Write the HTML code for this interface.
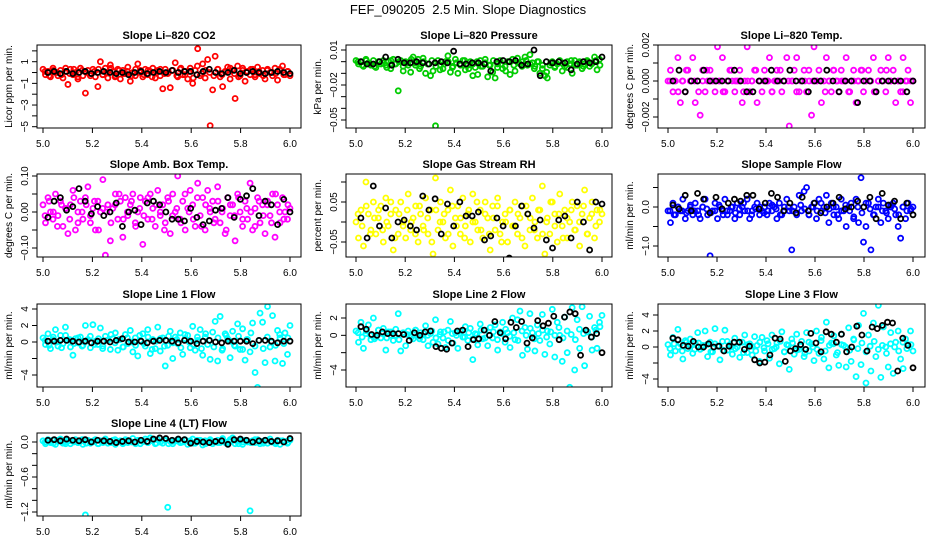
<!DOCTYPE html>
<html><head><meta charset="utf-8"><title>FEF_090205 2.5 Min. Slope Diagnostics</title>
<style>
html,body{margin:0;padding:0;background:#fff;}
svg{display:block;font-family:"Liberation Sans",Arial,sans-serif;}
</style></head>
<body>
<svg id="chart" width="936" height="540" viewBox="0 0 936 540" xmlns="http://www.w3.org/2000/svg">
<rect x="0" y="0" width="936" height="540" fill="#fff"/>
<text x="468" y="14" text-anchor="middle" font-size="13" fill="#000" style="white-space:pre">FEF_090205  2.5 Min. Slope Diagnostics</text>
</svg>
<script>
// ---- data ----
const xTicks = [5.0, 5.2, 5.4, 5.6, 5.8, 6.0];
const xTickLabels = ["5.0", "5.2", "5.4", "5.6", "5.8", "6.0"];

const co2Values = [0.3,-0.2,0.1,-0.4,0.4,0.0,-0.3,0.2,-0.5,0.1,-1.1,0.3,-0.2,0.0,-0.6,0.4,-0.3,-1.9,0.2,-0.1,0.3,-0.4,-1.3,1.0,-0.2,0.4,-0.5,0.7,0.1,-0.3,0.3,-0.6,0.2,-0.1,0.5,-0.8,0.0,-0.3,0.8,0.2,-0.4,0.3,-0.2,0.1,0.4,-0.5,0.2,-0.3,-1.5,0.3,-0.1,-1.4,0.2,0.9,-0.4,0.3,-0.2,0.1,-0.6,0.4,-1.0,0.2,2.2,-0.3,0.8,-0.5,1.2,-4.9,-1.6,1.5,0.3,-0.4,-1.3,0.1,0.5,-0.6,0.2,-2.4,0.6,-0.3,0.4,-0.8,0.1,-0.2,0.3,-0.4,0.5,-0.1,0.2,-0.6,0.3,0.0,-0.3,0.4,-0.7,0.2,0.6,-0.2,0.1,-0.3];
const co2Extra = [0.1,-0.3,0.2,0.0,-0.2,0.4,-0.1,0.3,-0.4,0.2,0.0,-0.3,0.1,0.3,-0.2,0.0,0.4,-0.4,0.2,-0.1,0.1,-0.3,0.3,0.0,-0.2,0.2,-0.4,0.1,0.3,-0.1,0.0,0.2,-0.3,0.4,-0.2,0.1,-0.5,0.6,-0.1,0.2,0.0,-0.3,0.3,-0.2,0.1,0.4,-0.1,-0.4,0.2,0.0,0.3,-0.2,0.1,-0.3,0.2,0.0,-0.1,0.3,-0.2,0.1];
const co2Mean = [0.0,0.1,-0.1,0.1,-0.1,0.0,0.1,-0.1,0.0,0.1,0.0,-0.1,0.0,-0.2,0.0,0.1,-0.1,0.0,0.1,0.0,0.2,0.0,0.1,0.1,-0.2,0.1,0.3,0.0,-0.1,0.0,0.2,-0.1,0.0,0.1,0.0,-0.1,0.0,0.1,0.0,-0.1];

const pressValues = [0.001,-0.002,0.000,-0.004,0.002,-0.001,-0.003,0.001,-0.005,0.000,-0.002,0.001,-0.003,0.000,-0.006,0.002,-0.002,-0.025,0.001,-0.008,0.000,-0.003,-0.009,0.004,-0.001,0.002,-0.004,0.003,-0.010,-0.002,-0.012,-0.008,-0.055,0.001,-0.003,-0.006,0.000,0.005,-0.009,-0.004,0.002,-0.010,-0.002,0.001,-0.007,-0.003,0.000,-0.012,-0.005,-0.011,0.001,-0.004,0.002,-0.013,-0.003,-0.009,-0.014,-0.002,0.001,-0.006,-0.004,0.000,-0.011,0.002,-0.008,0.003,-0.002,0.000,0.004,-0.003,0.006,-0.001,-0.004,0.000,-0.010,-0.006,-0.012,-0.014,-0.003,0.000,-0.005,-0.002,0.001,-0.008,-0.004,0.000,-0.002,-0.010,0.001,-0.003,0.000,-0.006,-0.002,0.001,-0.004,-0.001,0.004,-0.007,0.002,-0.060];
const pressExtra = [0.000,-0.003,0.001,-0.002,-0.004,0.000,-0.001,-0.005,0.001,-0.002,0.000,-0.004,-0.001,0.002,-0.003,-0.006,0.000,-0.002,0.001,-0.004,-0.007,-0.002,0.000,-0.005,-0.001,-0.003,0.001,-0.006,-0.002,0.000,-0.004,-0.001,-0.003,0.001,-0.005,-0.002,-0.008,0.000,-0.003,-0.001,-0.004,0.001,-0.002,-0.006,0.000,-0.003,-0.009,-0.001,-0.004,0.000,-0.002,-0.005,0.001,-0.003,-0.001,-0.004,0.000,-0.002,0.001,-0.003];
const pressMean = [0.000,-0.002,-0.002,0.000,0.004,-0.003,0.002,-0.001,-0.001,0.000,-0.001,-0.002,-0.001,0.000,-0.001,0.009,-0.002,-0.002,-0.001,-0.001,-0.002,-0.008,0.000,0.001,0.000,0.001,-0.003,-0.002,0.010,-0.012,0.000,-0.001,0.000,-0.001,-0.007,-0.002,0.000,-0.001,0.000,0.004];

const tempValues = [0,0.0006,-0.0006,0,0.0013,-0.0012,0,-0.0006,0.0006,0,0.0013,-0.0012,0,-0.0019,0.0006,-0.0006,0,0.0006,0,-0.0006,0.0019,0,0.0013,-0.0006,0,0.0006,0,-0.0006,0,0.0006,-0.0012,0,0.0019,-0.0006,0,0.0006,-0.0012,0,-0.0006,0.0006,0,0.0013,-0.0006,0,0.0006,0,-0.0006,0,0.0013,-0.0025,0,0.0006,0.0013,-0.0006,0,0.0006,-0.0006,0,-0.0019,0.0019,0,0.0006,-0.0012,0,0.0013,0,-0.0006,0.0006,0,-0.0006,0.0006,0,0.0013,-0.0006,0,0.0006,-0.0012,0,0.0006,-0.0006,0,0.0006,0,0.0013,-0.0006,0,0.0006,0,-0.0006,0.0013,0,0.0006,-0.0012,0,-0.0006,0.0013,0,0.0006,-0.0012,0];
const tempExtra = [0,0,-0.0006,0,0.0006,0,0,-0.0006,0,0.0006,0,0,0,-0.0006,0,0.0006,0,0,-0.0006,0,0,0.0006,0,0,0,-0.0006,0,0.0006,0,0,0,-0.0006,0,0,0.0006,0,0,0,-0.0006,0,0.0006,0,0,0,-0.0006,0,0,0.0006,0,0,-0.0006,0,0,0.0006,0,0,0,-0.0006,0,0];
const tempMean = [0,0.0006,-0.0006,0,0,0.0006,0,0,0,0,0.0006,0,-0.0006,-0.0006,0,0,0.0006,0,0,0.0006,0,0,-0.0006,0,0,0.0006,0,-0.0006,0,0,-0.0012,0,0,-0.0006,0,0,0,0,-0.0006,0];

const ambValues = [0.02,-0.03,0.04,0.00,-0.02,0.05,-0.01,0.03,-0.04,0.01,-0.06,0.02,0.06,-0.05,0.00,0.03,-0.02,0.04,0.07,-0.03,0.01,-0.05,0.03,0.00,0.09,-0.12,0.02,-0.08,0.01,0.05,-0.02,0.03,-0.07,0.04,-0.01,0.02,0.05,-0.03,0.00,0.04,-0.09,0.03,-0.02,0.05,0.01,-0.04,0.06,-0.01,0.02,-0.03,0.04,-0.06,0.05,0.00,0.10,-0.02,0.03,-0.05,0.01,0.06,0.02,-0.04,0.08,-0.01,0.04,-0.05,0.06,0.00,0.03,-0.02,0.07,-0.03,0.01,-0.06,0.04,-0.01,0.02,-0.08,0.05,0.00,-0.04,0.03,-0.02,0.08,-0.05,0.01,0.04,-0.03,0.02,-0.06,0.03,-0.01,0.05,-0.07,0.02,-0.03,0.04,0.00,-0.02,0.01];
const ambExtra = [-0.01,0.03,0.00,-0.04,0.02,0.01,-0.02,0.04,-0.03,0.00,0.02,-0.01,0.03,-0.05,0.01,0.00,-0.03,0.02,0.05,-0.02,0.00,0.03,-0.04,0.01,-0.01,0.04,-0.02,0.02,0.00,-0.05,0.03,-0.01,0.01,-0.03,0.05,0.00,-0.02,0.04,-0.04,0.02,0.01,-0.03,0.03,0.00,-0.05,0.02,-0.01,0.04,-0.02,0.01,0.00,-0.04,0.03,-0.01,0.02,-0.03,0.05,0.00,-0.02,0.02];
const ambMean = [-0.015,0.03,0.04,0.005,0.015,0.065,0.03,-0.005,0.015,-0.01,0.0,0.025,-0.04,0.0,0.005,-0.035,0.025,0.03,0.02,0.0,-0.02,-0.02,-0.025,0.01,-0.015,-0.035,-0.025,0.005,0.01,0.04,-0.015,0.035,0.045,0.065,-0.01,0.03,0.02,-0.035,0.035,0.0];

const rhValues = [0.00,-0.04,0.03,-0.06,0.10,0.02,-0.02,0.05,-0.03,0.01,0.04,-0.05,0.06,-0.01,0.02,-0.07,0.03,-0.03,0.05,0.00,-0.04,0.07,-0.02,0.01,0.04,-0.05,0.02,-0.01,0.06,-0.03,0.03,-0.08,0.11,-0.02,0.05,0.00,-0.04,0.03,0.08,-0.06,0.01,0.04,-0.03,0.06,-0.01,0.02,-0.05,0.07,0.00,-0.02,0.03,-0.04,0.05,0.01,-0.07,0.04,-0.02,0.06,-0.03,0.00,0.02,-0.05,0.03,-0.01,0.05,-0.03,0.01,0.04,-0.06,0.02,-0.02,0.06,0.00,-0.04,0.03,0.09,-0.08,0.01,-0.03,0.05,0.02,-0.05,0.07,-0.01,0.03,-0.04,0.00,0.05,-0.02,0.04,-0.06,0.02,0.08,-0.03,0.01,0.05,-0.04,0.03,0.00,0.02];
const rhExtra = [0.02,-0.01,0.04,-0.03,0.01,0.03,-0.02,0.00,0.05,-0.04,0.02,-0.01,0.03,0.00,-0.03,0.04,-0.02,0.01,-0.05,0.03,0.00,0.02,-0.03,0.04,-0.01,0.01,-0.04,0.03,0.00,0.05,-0.02,0.02,-0.03,0.01,0.04,-0.05,0.00,0.03,-0.01,0.02,-0.04,0.04,0.01,-0.02,0.03,-0.03,0.00,0.05,-0.01,0.02,-0.04,0.01,0.03,-0.02,0.00,0.04,-0.03,0.02,-0.01,0.03];
const rhMean = [0.01,-0.04,0.09,-0.01,0.035,-0.04,0.00,0.005,-0.01,-0.02,0.065,0.03,0.058,-0.03,0.045,-0.01,0.05,0.015,0.015,0.025,-0.045,-0.035,0.01,-0.01,-0.09,-0.01,0.04,0.02,-0.015,0.005,-0.045,-0.065,0.005,0.015,-0.04,0.05,0.0,-0.07,0.05,0.045];

const flowValues = [-0.1,-0.4,0.1,-0.2,0.0,-0.1,0.2,-0.3,-0.1,0.0,-0.2,0.1,-0.1,-0.3,0.0,0.2,-0.2,-1.25,-0.1,0.1,-0.3,0.0,-0.1,0.2,-0.2,-0.1,0.0,-0.3,0.1,-0.2,0.0,-0.1,0.2,-0.3,-0.1,0.0,0.1,-0.2,-0.1,0.0,-0.2,0.1,-0.1,0.0,-0.3,0.1,-0.2,0.0,0.2,-0.1,-1.1,0.0,-0.2,0.3,-0.1,0.4,0.5,-0.2,0.0,0.1,-0.3,0.2,-0.1,0.0,0.3,-0.4,0.1,-0.2,0.0,-0.3,0.2,-0.1,-0.5,0.0,0.1,-0.3,0.2,-0.4,0.75,-0.9,-0.5,0.1,-1.1,-0.2,0.0,0.2,-0.4,0.1,-0.1,-0.3,0.0,0.1,-0.2,-0.5,-0.8,0.0,-0.3,0.1,-0.1,0.0];
const flowExtra = [-0.1,-0.2,0.0,-0.1,-0.15,0.05,-0.1,-0.2,0.0,-0.05,-0.15,-0.1,0.05,-0.2,-0.1,0.0,-0.15,-0.05,0.1,-0.1,-0.2,-0.05,0.0,-0.15,-0.1,0.05,-0.05,-0.2,-0.1,0.0,-0.1,-0.15,0.05,-0.05,-0.2,0.0,-0.1,0.1,-0.15,-0.05,0.0,-0.2,-0.1,0.05,-0.1,-0.25,0.0,-0.15,0.1,-0.05,-0.2,0.0,-0.1,-0.15,0.05,-0.05,-0.2,0.0,-0.1,-0.05];
const flowMean = [0.05,-0.05,0.3,-0.1,0.35,0.2,-0.15,0.25,-0.05,0.1,0.2,0.15,0.3,0.3,-0.05,0.1,0.35,0.25,-0.1,0.1,-0.15,0.25,-0.1,0.1,-0.15,0.0,0.1,0.25,-0.05,0.0,0.15,0.0,0.25,-0.3,0.35,0.05,0.15,-0.3,0.1,-0.2];

const line1Values = [0.5,-0.3,1.0,-0.8,0.3,1.5,-0.5,0.8,-0.2,1.8,0.2,-0.6,-1.6,0.4,-0.1,0.6,-0.4,2.0,0.3,-0.7,2.1,0.1,-0.3,1.7,-0.5,0.7,0.2,-0.9,0.4,1.1,-1.0,0.3,-0.6,0.9,-0.2,1.4,-1.2,0.5,-1.7,0.2,1.0,-0.5,1.5,-1.4,0.3,-0.8,1.8,-1.1,0.5,-2.9,-0.4,1.3,-2.0,0.6,-0.2,1.1,-1.5,0.4,0.8,-0.7,1.9,-1.0,0.2,1.5,-1.6,0.6,-0.3,-2.1,1.2,2.5,-2.3,3.1,-0.8,1.0,0.4,-1.9,1.3,-0.5,2.2,-0.9,1.6,-2.2,0.3,-1.2,2.3,-3.7,-5.5,3.5,2.4,-2.5,4.3,-0.6,3.2,-2.3,1.4,0.5,-2.6,1.1,-1.5,2.0];
const line1Extra = [0.2,-0.4,0.6,0.0,-0.7,0.8,0.3,-0.2,0.5,-0.5,0.1,0.7,-0.3,0.4,-0.8,0.2,0.9,-0.1,0.3,-0.6,0.5,0.0,-0.4,0.8,-0.2,0.6,-0.9,0.1,0.4,-0.5,0.7,-0.1,0.3,-0.7,0.9,0.0,-0.3,0.6,-0.8,1.0,0.2,-0.6,0.5,-1.0,0.8,0.1,-0.4,0.7,-0.9,0.3,1.1,-0.5,0.2,-0.8,0.6,0.0,-0.4,0.9,-0.2,0.5];
const line1Mean = [0.1,0.1,0.2,0.2,0.1,0.0,0.1,-0.1,0.1,0.1,0.0,0.2,0.4,0.0,0.0,0.1,-0.1,0.1,0.2,0.2,0.1,-0.1,0.2,0.1,-0.2,0.1,0.2,0.0,-0.1,0.1,0.1,0.1,0.1,-0.2,0.2,0.2,0.1,-0.1,0.1,0.1];

const line2Values = [0.5,-0.8,1.5,-1.5,0.2,1.2,-0.5,2.0,-0.2,0.6,-0.3,0.8,-1.7,0.4,0.0,-0.6,0.7,2.5,-1.8,0.3,-1.2,0.5,0.0,-0.4,0.6,-0.1,0.3,-0.5,1.1,-1.2,0.2,-0.8,1.8,-1.0,0.4,-0.3,-1.4,0.6,1.6,-0.9,0.3,-1.5,0.5,-0.2,1.0,-0.6,0.8,-2.8,0.2,-1.1,1.3,-0.4,0.6,-1.2,0.9,-0.3,1.2,-1.7,0.4,1.5,-0.8,0.3,-1.4,2.0,-0.5,1.8,2.8,-2.3,0.9,-1.6,2.5,0.3,-1.8,1.2,-0.6,2.4,-2.2,0.5,-1.0,3.0,-2.5,1.5,0.0,-3.0,2.1,-2.0,-6.0,3.2,-4.0,1.8,-1.5,3.3,-3.5,0.4,2.2,-1.7,0.9,-1.5,1.5,2.3];
const line2Extra = [0.3,-0.2,0.5,0.0,-0.4,0.6,0.2,-0.3,0.4,0.0,-0.5,0.3,0.1,-0.2,0.6,-0.4,0.2,0.0,0.5,-0.3,0.1,0.4,-0.6,0.2,0.0,0.5,-0.2,0.3,-0.4,0.1,0.6,-0.3,0.0,0.4,-0.5,0.2,0.7,-0.1,0.3,-0.6,0.5,0.0,0.8,-0.4,0.2,0.6,-0.2,0.4,0.0,0.9,-0.3,0.5,0.1,-0.5,0.7,0.2,0.4,-0.2,0.6,1.0];
const line2Mean = [1.0,0.7,0.1,0.0,0.4,0.2,0.2,0.2,0.1,-0.6,0.3,0.0,0.4,0.5,-1.3,-1.5,-1.6,-0.9,0.5,0.6,-1.3,-0.5,-0.4,0.6,0.0,1.6,0.3,-0.4,1.5,0.9,1.6,-0.9,-0.3,1.7,1.1,1.4,2.2,-0.5,2.1,2.7,2.5,-2.3,0.6,-0.2,0.2,-2.0];

const line3Values = [0.3,-1.0,1.2,-0.5,2.2,0.4,-1.5,0.8,-0.2,1.0,-0.8,0.5,1.8,-0.3,0.2,2.0,-1.2,0.6,-0.6,2.3,0.1,-1.6,0.7,2.1,-0.4,0.3,-0.9,1.1,0.0,-1.3,0.6,1.5,-0.7,0.4,-1.0,1.3,0.2,-1.8,1.2,-0.5,0.8,-1.4,1.5,-0.2,0.5,-2.1,1.9,-0.6,0.3,-2.8,1.0,-0.9,1.6,-0.3,0.7,-1.2,1.8,-0.5,0.4,-1.7,2.0,-0.8,1.2,-1.5,3.1,-2.6,0.5,1.4,-1.0,-2.3,1.6,0.2,-2.5,2.4,-1.8,1.0,-3.7,2.7,-2.2,4.2,-4.5,1.5,-3.0,3.0,-1.2,5.2,-3.8,2.5,0.0,-2.5,1.8,-3.3,0.6,2.0,-1.5,-2.7,1.0,0.3,2.0,-0.5];
const line3Extra = [-0.2,0.4,0.0,-0.5,0.6,0.2,-0.3,0.5,-0.1,0.3,-0.6,0.4,0.1,-0.4,0.7,0.0,-0.2,0.5,-0.7,0.3,0.1,-0.5,0.6,-0.1,0.4,-0.3,0.0,0.7,-0.6,0.2,0.5,-0.4,0.1,-0.8,0.6,0.0,-0.3,0.8,-0.5,0.2,0.4,-0.7,0.3,0.0,-0.4,0.9,-0.2,0.5,-0.6,0.1,0.7,-0.3,0.2,-0.8,0.4,0.0,-0.5,0.6,-0.2,0.3];
const line3Mean = [1.1,0.9,0.2,0.1,0.7,0.0,0.0,0.4,0.0,0.1,-0.5,0.1,0.6,0.6,-0.3,0.1,-1.6,-2.0,-1.9,-1.0,1.1,1.0,-1.8,-0.5,-0.2,0.3,-0.3,1.7,0.5,-0.6,1.9,1.6,0.6,1.6,-0.6,0.0,2.6,1.5,-0.5,2.5,2.3,2.7,3.1,3.0,-3.0,1.1,0.2,-2.6];

const line4Values = [0.02,-0.03,0.04,-0.01,0.03,-0.04,0.01,0.05,-0.02,0.00,0.03,-0.03,0.02,0.04,-0.01,0.01,-0.04,-1.25,0.03,-0.02,0.00,0.04,-0.03,0.02,-0.01,0.05,-0.02,0.01,0.03,-0.04,0.00,0.02,-0.03,0.04,-0.01,0.01,0.06,-0.02,0.03,-0.03,0.01,0.05,-0.01,0.07,0.02,-0.03,0.04,0.00,-0.02,0.03,-1.12,0.01,-0.03,0.02,0.04,-0.01,0.00,0.03,-0.04,0.02,0.05,-0.02,0.01,0.03,-0.05,0.02,0.00,0.04,-0.03,0.01,0.03,-0.01,0.06,0.00,-0.02,0.04,0.07,-0.03,0.01,0.02,-0.04,0.03,0.00,-1.18,0.02,-0.01,0.04,-0.03,0.01,0.03,-0.02,0.05,0.00,-0.01,0.03,-0.04,0.02,0.01,-0.02,0.03];
const line4Extra = [0.00,0.02,-0.02,0.03,0.01,-0.03,0.02,0.00,-0.01,0.04,-0.02,0.01,0.03,-0.03,0.00,0.02,-0.01,0.04,0.01,-0.02,0.03,0.00,-0.03,0.02,0.01,-0.01,0.04,-0.02,0.00,0.03,-0.03,0.01,0.02,-0.01,0.04,0.00,-0.02,0.03,0.01,-0.03,0.02,0.00,-0.01,0.04,-0.02,0.01,0.03,-0.03,0.00,0.02,-0.01,0.04,0.01,-0.02,0.03,0.00,-0.03,0.02,0.01,-0.01];
const line4Mean = [0.03,0.04,0.02,0.05,0.03,0.02,0.04,0.0,0.03,0.02,0.01,-0.01,0.01,0.02,0.0,0.03,0.01,0.05,0.07,0.06,0.03,0.05,0.04,-0.02,0.01,0.0,-0.01,0.01,0.02,-0.04,0.04,0.05,0.03,0.0,0.02,0.03,0.01,0.02,0.0,0.06];

const co2Ticks = [2,1,0,-1,-2,-3,-4,-5];            const co2Labels = {"1":"1","-1":"−1","-3":"−3","-5":"−5"};
const pressTicks = [0.01,0,-0.01,-0.02,-0.03,-0.04,-0.05]; const pressLabels = {"0.01":"0.01","-0.02":"−0.02","-0.05":"−0.05"};
const tempTicks = [0.002,0.001,0,-0.001,-0.002];   const tempLabels = {"0.002":"0.002","0":"0.000","-0.002":"−0.002"};
const ambTicks = [0.1,0.05,0,-0.05,-0.1];          const ambLabels = {"0.1":"0.10","0":"0.00","-0.1":"−0.10"};
const rhTicks = [0.1,0.05,0,-0.05];                const rhLabels = {"0.05":"0.05","-0.05":"−0.05"};
const flowTicks = [0.5,0,-0.5,-1];                 const flowLabels = {"0":"0.0","-1":"−1.0"};
const line1Ticks = [4,2,0,-2,-4];                  const line1Labels = {"4":"4","2":"2","0":"0","-4":"−4"};
const line2Ticks = [2,0,-2,-4];                    const line2Labels = {"2":"2","0":"0","-4":"−4"};
const line3Ticks = [4,2,0,-2,-4];                  const line3Labels = {"4":"4","2":"2","0":"0","-4":"−4"};
const line4Ticks = [0,-0.2,-0.4,-0.6,-0.8,-1.0,-1.2]; const line4Labels = {"0":"0.0","-0.6":"−0.6","-1.2":"−1.2"};

// ---- layout ----
const NS = "http://www.w3.org/2000/svg";
const svg = document.getElementById("chart");
const cols = [{l:37,r:301,x0:43,x1:290},{l:346,r:612,x0:356,x1:602},{l:658,r:925,x0:668,x1:913}];
const rows = [{t:45,b:128},{t:174,b:257},{t:304,b:387},{t:433,b:516}];

const panels = [
 {name:"co2",title:"Slope Li–820 CO2",ylab:"Licor ppm per min.",c:0,r:0,col:"#ff0000",vals:co2Values,extra:co2Extra,mean:co2Mean,ticks:co2Ticks,labels:co2Labels,ref:[1,61.7,-5,126.7]},
 {name:"pressure",title:"Slope Li–820 Pressure",ylab:"kPa per min.",c:1,r:0,col:"#00cc00",vals:pressValues,extra:pressExtra,mean:pressMean,ticks:pressTicks,labels:pressLabels,ref:[0.01,50,-0.05,120]},
 {name:"temp",title:"Slope Li–820 Temp.",ylab:"degrees C per min.",c:2,r:0,col:"#ff00ff",vals:tempValues,extra:tempExtra,mean:tempMean,ticks:tempTicks,labels:tempLabels,ref:[0.002,45,-0.002,117]},
 {name:"amb-temp",title:"Slope Amb. Box Temp.",ylab:"degrees C per min.",c:0,r:1,col:"#ff00ff",vals:ambValues,extra:ambExtra,mean:ambMean,ticks:ambTicks,labels:ambLabels,ref:[0.1,176,-0.1,248]},
 {name:"rh",title:"Slope Gas Stream RH",ylab:"percent per min.",c:1,r:1,col:"#ffff00",vals:rhValues,extra:rhExtra,mean:rhMean,ticks:rhTicks,labels:rhLabels,ref:[0.05,202,-0.05,242]},
 {name:"sample-flow",title:"Slope Sample Flow",ylab:"ml/min per min.",c:2,r:1,col:"#0000ff",vals:flowValues,extra:flowExtra,mean:flowMean,ticks:flowTicks,labels:flowLabels,ref:[0,207,-1,246]},
 {name:"line1-flow",title:"Slope Line 1 Flow",ylab:"ml/min per min.",c:0,r:2,col:"#00ffff",vals:line1Values,extra:line1Extra,mean:line1Mean,ticks:line1Ticks,labels:line1Labels,ref:[4,309,-4,375]},
 {name:"line2-flow",title:"Slope Line 2 Flow",ylab:"ml/min per min.",c:1,r:2,col:"#00ffff",vals:line2Values,extra:line2Extra,mean:line2Mean,ticks:line2Ticks,labels:line2Labels,ref:[2,318,-4,370]},
 {name:"line3-flow",title:"Slope Line 3 Flow",ylab:"ml/min per min.",c:2,r:2,col:"#00ffff",vals:line3Values,extra:line3Extra,mean:line3Mean,ticks:line3Ticks,labels:line3Labels,ref:[4,315,-4,379]},
 {name:"line4-flow",title:"Slope Line 4 (LT) Flow",ylab:"ml/min per min.",c:0,r:3,col:"#00ffff",vals:line4Values,extra:line4Extra,mean:line4Mean,ticks:line4Ticks,labels:line4Labels,ref:[0,442,-1.2,512]}
];

function mk(tag, attrs, parent){
  const e = document.createElementNS(NS, tag);
  for (const k in attrs) e.setAttribute(k, attrs[k]);
  (parent||svg).appendChild(e);
  return e;
}

panels.forEach(p => {
  const C = cols[p.c], R = rows[p.r];
  const xs = v => C.x0 + (v - 5) * (C.x1 - C.x0);
  const ys = v => p.ref[1] + (p.ref[0] - v) * (p.ref[3] - p.ref[1]) / (p.ref[0] - p.ref[2]);
  const g = mk("g", {});
  
  
  const clip = mk("clipPath", {id:"clip-"+p.name}, g);
  mk("rect", {x:C.l, y:R.t, width:C.r-C.l, height:R.b-R.t}, clip);

  const pts = mk("g", {"clip-path":"url(#clip-"+p.name+")"}, g);
  
  
  const n = p.vals.length;
  p.vals.forEach((v, i) => {
    const c = mk("circle", {cx:xs(5 + i/(n-1)), cy:ys(v), r:2.5, fill:"none", stroke:p.col, "stroke-width":1.8}, pts);
    
    
  });
  const ne = p.extra.length;
  p.extra.forEach((v, i) => {
    const c = mk("circle", {cx:xs(5 + (i+0.5)/ne), cy:ys(v), r:2.5, fill:"none", stroke:p.col, "stroke-width":1.8}, pts);
    
    
  });
  const m = p.mean.length;
  p.mean.forEach((v, i) => {
    const c = mk("circle", {cx:xs(5.02 + 0.98*i/(m-1)), cy:ys(v), r:2.5, fill:"none", stroke:"#000", "stroke-width":1.8}, pts);
    
    
  });

  const box = mk("rect", {x:C.l, y:R.t, width:C.r-C.l, height:R.b-R.t, fill:"none", stroke:"#000", "stroke-width":1}, g);
  
  

  const t = mk("text", {x:(C.l+C.r)/2, y:R.t-6, "text-anchor":"middle", "font-size":11, "font-weight":"bold", fill:"#000"}, g);
  t.textContent = p.title;
  
  

  const xa = mk("g", {}, g);
  
  
  mk("line", {x1:xs(xTicks[0]), x2:xs(xTicks[xTicks.length-1]), y1:R.b, y2:R.b, stroke:"#000"}, xa);
  xTicks.forEach((v, i) => {
    mk("line", {x1:xs(v), x2:xs(v), y1:R.b, y2:R.b+5, stroke:"#000"}, xa);
    const tl = mk("text", {x:xs(v), y:R.b+19, "text-anchor":"middle", "font-size":10, fill:"#000"}, xa);
    tl.textContent = xTickLabels[i];
    
    
  });

  const ya = mk("g", {}, g);
  
  
  p.ticks.forEach(v => {
    const yy = ys(v);
    mk("line", {x1:C.l-5, x2:C.l, y1:yy, y2:yy, stroke:"#000"}, ya);
    const key = String(v);
    if (p.labels[key] !== undefined) {
      const tl = mk("text", {x:0, y:0, transform:"translate("+(C.l-9)+","+yy+") rotate(-90)", "text-anchor":"middle", "font-size":10, fill:"#000"}, ya);
      tl.textContent = p.labels[key];
      
      
    }
  });
  const yt = mk("text", {x:0, y:0, transform:"translate("+(C.l-25)+","+((R.t+R.b)/2)+") rotate(-90)", "text-anchor":"middle", "font-size":10, fill:"#000"}, ya);
  yt.textContent = p.ylab;
  
  
});
</script>
</body></html>
